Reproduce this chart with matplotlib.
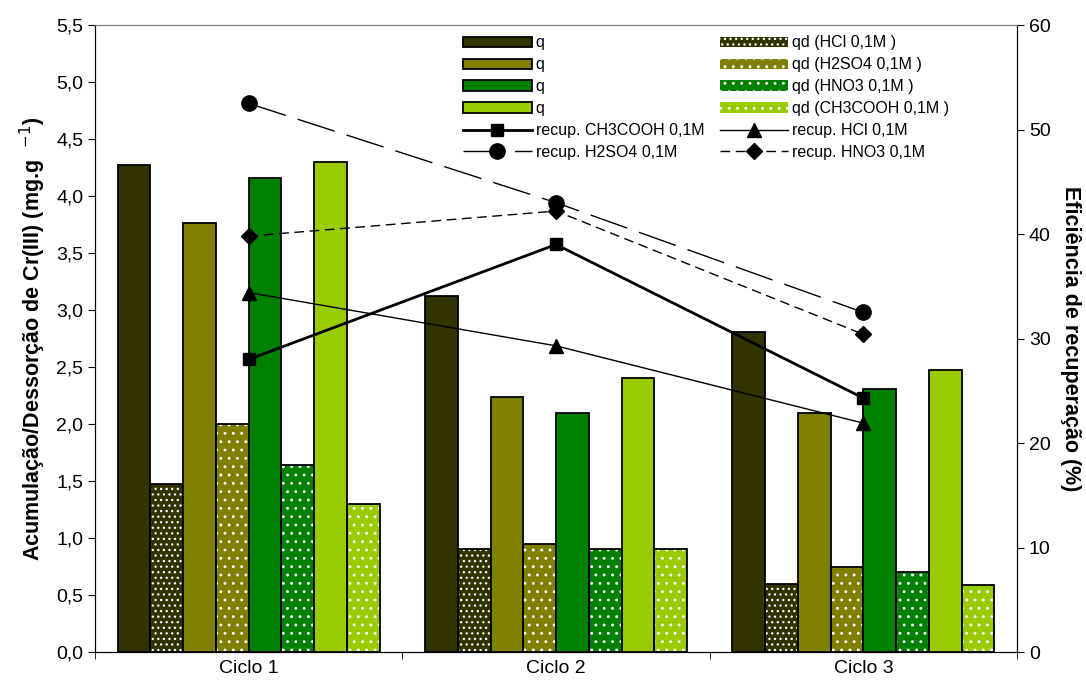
import numpy as np
import matplotlib
matplotlib.use("Agg")
import matplotlib.pyplot as plt
from matplotlib.patches import Patch
from matplotlib.ticker import FuncFormatter, FixedLocator

plt.rcParams['font.family'] = ['Liberation Sans', 'DejaVu Sans']
plt.rcParams['hatch.linewidth'] = 0.9

ciclos = ["Ciclo 1", "Ciclo 2", "Ciclo 3"]

# acumulação (q) e dessorção (qd), mg/g
q_hcl = [4.27, 3.12, 2.81]
qd_hcl = [1.47, 0.90, 0.60]
q_h2so4 = [3.76, 2.24, 2.10]
qd_h2so4 = [2.00, 0.95, 0.75]
q_hno3 = [4.16, 2.10, 2.31]
qd_hno3 = [1.64, 0.90, 0.70]
q_ch3cooh = [4.30, 2.40, 2.47]
qd_ch3cooh = [1.30, 0.90, 0.59]

# eficiência de recuperação (%)
rec_ch3cooh = [28.0, 39.0, 24.3]
rec_hcl = [34.4, 29.3, 21.9]
rec_h2so4 = [52.5, 43.0, 32.5]
rec_hno3 = [39.8, 42.2, 30.4]

fig = plt.figure(figsize=(10.86, 6.92), dpi=100)
ax = fig.add_axes([0.0875, 0.0578, 0.849, 0.906])
ax2 = ax.twinx()

x = np.arange(len(ciclos))
w = 0.1066

series = [
    (q_hcl, "#333300", None, "q"),
    (qd_hcl, "#333300", "...", "qd (HCl 0,1M )"),
    (q_h2so4, "#808000", None, "q"),
    (qd_h2so4, "#808000", "..", "qd (H2SO4 0,1M )"),
    (q_hno3, "#008000", None, "q"),
    (qd_hno3, "#008000", "..", "qd (HNO3 0,1M )"),
    (q_ch3cooh, "#99CC00", None, "q"),
    (qd_ch3cooh, "#99CC00", "..", "qd (CH3COOH 0,1M )"),
]

bar_handles = {}
for i, (vals, col, hatch, lab) in enumerate(series):
    pos = x + (i - 3.5) * w
    if hatch:
        # white dots on the fill, black outline drawn on top
        ax.bar(pos, vals, w, color=col, edgecolor="white", hatch=hatch, linewidth=0, zorder=2)
        ax.bar(pos, vals, w, facecolor="none", edgecolor="black", linewidth=1.3, zorder=3)
        bar_handles[i] = Patch(facecolor=col, edgecolor="white", hatch=hatch, linewidth=0)
    else:
        bar_handles[i] = ax.bar(pos, vals, w, color=col, edgecolor="black",
                                linewidth=1.3, zorder=3)

ax.set_xlim(-0.5, 2.5)
ax.set_ylim(0, 5.5)
ax.set_yticks(np.arange(0, 5.51, 0.5))
ax.yaxis.set_major_formatter(FuncFormatter(lambda v, p: f"{v:.1f}".replace(".", ",")))
ax.set_xticks(x)
ax.set_xticklabels(ciclos)
ax.xaxis.set_minor_locator(FixedLocator([-0.5, 0.5, 1.5, 2.5]))
ax.tick_params(axis="x", which="major", length=0, labelsize=14, pad=6)
ax.tick_params(axis="x", which="minor", length=5, direction="out")
ax.tick_params(axis="y", labelsize=14, length=5, direction="out")
ax.set_ylabel("Acumulação/Dessorção de Cr(III) (mg.g  $^{-1}$)", fontsize=15.5,
              fontweight="bold", labelpad=6)
ax.spines["top"].set_color("#808080")

ax2.set_ylim(0, 60)
ax2.set_yticks(np.arange(0, 61, 10))
ax2.tick_params(axis="y", labelsize=14, length=5, direction="out")
ax2.set_ylabel("Eficiência de recuperação (%)", fontsize=15.5, fontweight="bold",
               rotation=270, labelpad=22)
ax2.spines["top"].set_color("#808080")

l_ch3, = ax2.plot(x, rec_ch3cooh, color="black", lw=2, marker="s", ms=9, zorder=5)
l_hcl, = ax2.plot(x, rec_hcl, color="black", lw=1, marker="^", ms=10, zorder=5)
l_h2so4, = ax2.plot(x, rec_h2so4, color="black", lw=1, marker="o", ms=11,
                    dashes=(28, 9), zorder=5)
l_hno3, = ax2.plot(x, rec_hno3, color="black", lw=1, marker="D", ms=8,
                   dashes=(7, 4), zorder=5)

handles = [bar_handles[0], bar_handles[2], bar_handles[4], bar_handles[6], l_ch3, l_h2so4,
           bar_handles[1], bar_handles[3], bar_handles[5], bar_handles[7], l_hcl, l_hno3]
labels = ["q", "q", "q", "q", "recup. CH3COOH 0,1M", "recup. H2SO4 0,1M",
          "qd (HCl 0,1M )", "qd (H2SO4 0,1M )", "qd (HNO3 0,1M )", "qd (CH3COOH 0,1M )",
          "recup. HCl 0,1M", "recup. HNO3 0,1M"]
leg = ax2.legend(handles, labels, ncol=2, loc="upper left", bbox_to_anchor=(0.388, 1.0),
                 frameon=False, fontsize=11.5, handlelength=4.3, handleheight=0.62,
                 labelspacing=0.43, columnspacing=0.95, handletextpad=0.25,
                 borderaxespad=0.25)

fig.savefig("out.png", dpi=100)
